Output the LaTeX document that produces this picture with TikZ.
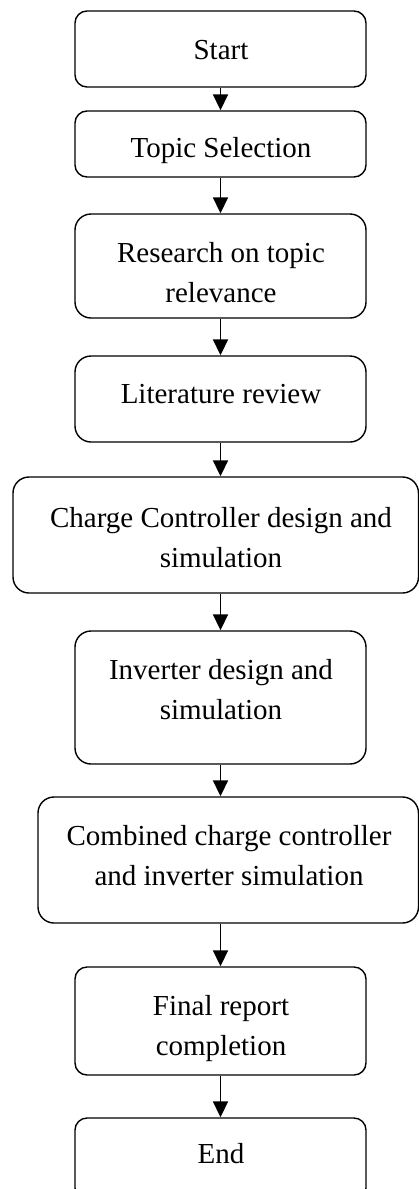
\documentclass[tikz,border=0pt]{standalone}
\usepackage{fontspec}
\setmainfont{Liberation Serif}
\usetikzlibrary{arrows.meta}

\tikzset{
  stepbox/.style={draw=black, line width=1.4pt, rounded corners=12pt,
    inner sep=0pt},
  bigbox/.style={stepbox, rounded corners=16pt},
  steptext/.style={align=center, inner sep=0pt, text=black,
    font=\fontsize{29}{40}\selectfont},
  flow/.style={draw=black, line width=1.8pt,
    -{Triangle[width=15pt,length=16pt]}}
}

\begin{document}
\begin{tikzpicture}[x=1pt, y=-1pt]
  \useasboundingbox (0,0) rectangle (419,1189);
  \clip (0,0) rectangle (419,1189);

  % process step frames, top to bottom
  \node[stepbox, minimum width=291pt, minimum height=76pt]    (start)    at (220.5,49)    {};
  \node[stepbox, minimum width=291pt, minimum height=66pt]    (topic)    at (220.5,144)   {};
  \node[bigbox,  minimum width=291pt, minimum height=104pt]   (research) at (220.5,266)   {};
  \node[bigbox,  minimum width=291pt, minimum height=86pt]    (lit)      at (220.5,399)   {};
  \node[bigbox,  minimum width=405.5pt, minimum height=116pt] (charge)   at (215.75,535)  {};
  \node[bigbox,  minimum width=291pt, minimum height=133pt]   (inv)      at (220.5,697.5) {};
  \node[bigbox,  minimum width=380.5pt, minimum height=126pt] (comb)     at (228.25,860)  {};
  \node[stepbox, minimum width=291pt, minimum height=108pt]   (final)    at (220.5,1021)  {};
  \node[stepbox, minimum width=291pt, minimum height=82pt]    (finish)   at (220.5,1159)  {};

  % step labels
  \node[steptext] (startT)    at (221,51)   {\strut Start};
  \node[steptext] (topicT)    at (221,149)  {\strut Topic Selection};
  \node[steptext] (researchT) at (221,274)  {\strut Research on topic\\\strut relevance};
  \node[steptext] (litT)      at (221,395)  {\strut Literature review};
  \node[steptext] (chargeT)   at (221,539)  {\strut Charge Controller design and\\\strut simulation};
  \node[steptext] (invT)      at (221,691)  {\strut Inverter design and\\\strut simulation};
  \node[steptext] (combT)     at (229,857)  {\strut Combined charge controller\\\strut and inverter simulation};
  \node[steptext] (finalT)    at (221,1027) {\strut Final report\\\strut completion};
  \node[steptext] (finishT)   at (221,1155) {\strut End};

  % connectors
  \draw[flow] (start.south)  -- (topic.north);
  \draw[flow] (topic.south)  -- (research.north);
  \draw[flow] (research.south) -- (lit.north);
  \draw[flow] (lit.south)    -- (lit.south |- charge.north);
  \draw[flow] (inv.north |- charge.south) -- (inv.north);
  \draw[flow] (inv.south)    -- (inv.south |- comb.north);
  \draw[flow] (final.north |- comb.south) -- (final.north);
  \draw[flow] (final.south)  -- (finish.north);
\end{tikzpicture}
\end{document}
